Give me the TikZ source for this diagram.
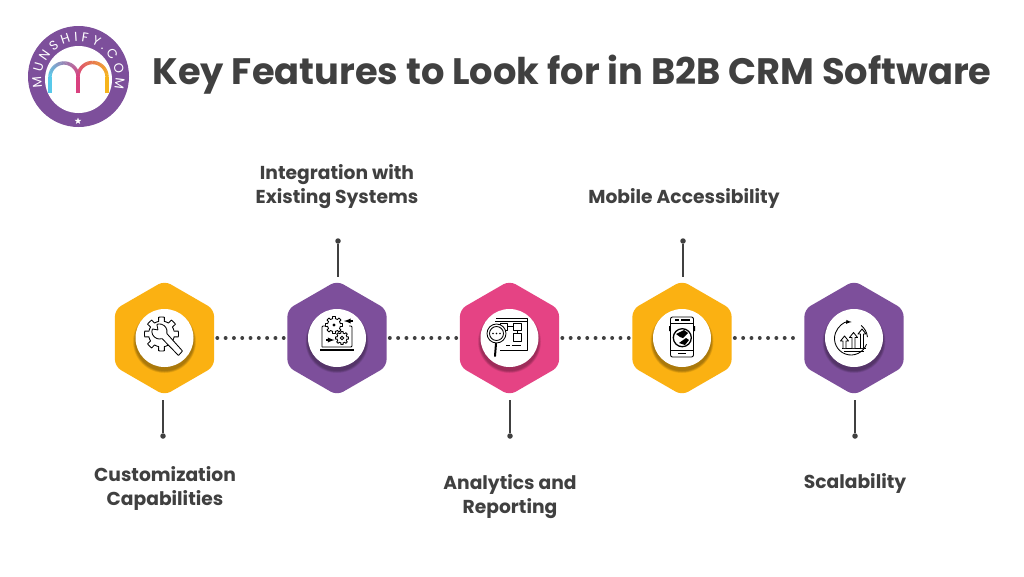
\documentclass[tikz,border=0pt]{standalone}
\usepackage{fontspec}
\setmainfont{Poppins}
\usetikzlibrary{shapes.geometric,decorations.text}

\definecolor{hexyellow}{HTML}{FBB112}
\definecolor{hexpurple}{HTML}{7D4F9B}
\definecolor{hexpink}{HTML}{E54384}
\definecolor{inkgray}{HTML}{404040}
\definecolor{archblue}{HTML}{58C9EA}
\definecolor{archpink}{HTML}{D9417F}
\definecolor{archgold}{HTML}{F6B41C}

\tikzset{
    hexnode/.style={regular polygon, regular polygon sides=6, shape border rotate=30,
        minimum size=114.5pt, inner sep=0pt, rounded corners=7pt, fill=#1},
    discnode/.style={circle, fill=white, minimum size=58pt, inner sep=0pt},
    tipnode/.style={circle, fill=inkgray, minimum size=5.5pt, inner sep=0pt},
    labelnode/.style={align=center, text=inkgray, font=\bfseries\fontsize{18.7}{24}\selectfont},
    stemline/.style={draw=inkgray, line width=1.4pt},
    dotline/.style={draw=inkgray, line width=3.8pt, line cap=round,
        dash pattern=on 0.1pt off 8.2pt, shorten <=3pt, shorten >=3.5pt},
    iconline/.style={draw=black, line width=0.85pt, line join=round},
}

% outline of a cog wheel: centre x, centre y, radius
\newcommand{\cogwheel}[3]{
    \draw[iconline, fill=white, shift={(#1,#2)}] plot[samples=145, domain=0:360]
        (\x:{cos(8*\x)>0.15 ? #3 : 0.76*#3}) -- cycle;
}

\begin{document}
\begin{tikzpicture}[x=1pt, y=-1pt]
    \useasboundingbox (0,0) rectangle (1024,576);
    \fill[white] (0,0) rectangle (1024,576);

    % Logo ring
    \fill[hexpurple] (78.5,76.5) circle (50.5);
    \fill[white] (78.5,79.5) circle (33.5);
    \path[decorate, decoration={text along path, text align=fit to path,
        text={|\fontsize{13}{13}\selectfont\color{white}|MUNSHIFY.COM}}]
        (78.5,78.5) ++(166:37) arc[start angle=166, end angle=376, radius=37];
    \node[star, star points=5, star point ratio=2.4, fill=white, minimum size=7pt, inner sep=0pt]
        (logostar) at (78,121) {};

    % Logo letter
    \draw[archblue, line width=3.4pt] (50,93) -- (50,77);
    \draw[archpink, line width=3.4pt] (78,93) -- (78,77);
    \draw[archgold, line width=3.4pt] (107,93) -- (107,77);
    \foreach \t in {0,5,...,175} {
        \pgfmathtruncatemacro{\mixval}{\t/1.75}
        \draw[archpink!\mixval!archblue, line width=3.4pt] (64,77) ++(180+\t:14) arc[start angle=180+\t, end angle=186+\t, radius=14];
        \draw[archgold!\mixval!archpink, line width=3.4pt] (92.5,77) ++(180+\t:14.5) arc[start angle=180+\t, end angle=186+\t, radius=14.5];
    }

    % Title
    \node[anchor=west, text=inkgray, font=\bfseries\fontsize{36.8}{40}\selectfont] (title) at (149,74.5)
        {Key Features to Look for in B2B CRM Software};

    % Hexagons
    \node[hexnode=hexyellow] (feat1) at (164.5,338) {};
    \node[hexnode=hexpurple] (feat2) at (337,338) {};
    \node[hexnode=hexpink] (feat3) at (509.5,338) {};
    \node[hexnode=hexyellow] (feat4) at (682,338) {};
    \node[hexnode=hexpurple] (feat5) at (854,338) {};

    % Dotted links
    \draw[dotline] (feat1) -- (feat2);
    \draw[dotline] (feat2) -- (feat3);
    \draw[dotline] (feat3) -- (feat4);
    \draw[dotline] (feat4) -- (feat5);

    % White discs with a soft shadow
    \foreach \n in {1,...,5} {
        \foreach \r in {31.5,31,30.5,30,29.5} {
            \fill[black, opacity=0.07] ([yshift=-3.5pt]feat\n.center) circle (\r);
        }
        \node[discnode] (disc\n) at (feat\n) {};
    }

    % Stems
    \node[tipnode] (tip1) at (163,436) {};
    \node[tipnode] (tip2) at (338,241) {};
    \node[tipnode] (tip3) at (510,436) {};
    \node[tipnode] (tip4) at (683,241) {};
    \node[tipnode] (tip5) at (855,436) {};
    \coordinate (stub1) at (163,400);
    \coordinate (stub2) at (338,277);
    \coordinate (stub3) at (510,400);
    \coordinate (stub4) at (683,277);
    \coordinate (stub5) at (855,400);
    \foreach \n in {1,...,5} {
        \draw[stemline] (tip\n) -- (stub\n);
    }

    % Labels
    \node[labelnode] (label1) at (165,488.5) {Customization\\Capabilities};
    \node[labelnode] (label2) at (337,187) {Integration with\\Existing Systems};
    \node[labelnode] (label3) at (510,497) {Analytics and\\Reporting};
    \node[labelnode] (label4) at (684,198.5) {Mobile Accessibility};
    \node[labelnode] (label5) at (855,483) {Scalability};

    % Icon: cog and wrench
    \cogwheel{161.5}{334}{17}
    \draw[iconline, fill=white, rounded corners=0.5pt] (166.7,333.4) arc[start angle=15, end angle=-110, radius=7.5]
        -- (158,330) -- (152.4,328.9) arc[start angle=200, end angle=70, radius=7.5]
        -- (178.5,355.5) -- (182.5,351) -- cycle;

    % Icon: laptop with cogs
    \draw[iconline, rounded corners=1pt] (322,347) -- (322,326) -- (326,326);
    \draw[iconline, rounded corners=1pt] (322,347) -- (352,347) -- (352,326) -- (349,326);
    \draw[black, line width=1.8pt] (320,350) -- (353.5,350);
    \cogwheel{334}{325}{8.5}
    \fill[black] (334,325) circle (1.6);
    \cogwheel{342}{338}{6.5}
    \fill[white, draw=black, line width=0.8pt] (342,338) circle (1.8);
    \draw[black, line width=1.3pt, -latex] (353,321) -- (344,321);
    \draw[black, line width=1.3pt, -latex] (326,340) -- (334.5,340);

    % Icon: board and magnifier
    \draw[iconline] (496,318) -- (527,318) -- (527,350) -- (500,350);
    \draw[iconline] (495,321) -- (527,321);
    \draw[iconline] (500,323) rectangle (507,330);
    \draw[iconline] (513,323) rectangle (521,330);
    \draw[iconline] (513,333.5) rectangle (521,341);
    \draw[iconline] (507,326.5) -- (513,326.5);
    \draw[iconline] (517,330) -- (517,333.5);
    \draw[iconline] (506,345) -- (510,345);
    \draw[iconline] (512,345) -- (521,345);
    \draw[iconline, fill=white] (496.5,333.5) circle (9.5);
    \draw[iconline] (496.5,333.5) circle (7);
    \fill[black] (493,333.5) circle (0.8) (496.5,333.5) circle (0.8) (500,333.5) circle (0.8);
    \draw[black, line width=2pt, line cap=round] (496,343.5) -- (495,356);

    % Icon: phone with globe
    \draw[iconline, rounded corners=2pt] (670.5,317) rectangle (693.5,357);
    \draw[iconline] (670.5,323) -- (693.5,323);
    \draw[iconline] (670.5,350) -- (693.5,350);
    \draw[black, line width=1.2pt] (675,320) -- (679,320) (681,320) -- (690,320);
    \draw[black, line width=1.2pt] (678,353.5) -- (686,353.5);
    \fill[black] (669,326) rectangle (670.5,331) (693.5,326) rectangle (695,331);
    \draw[black, line width=1.3pt] (682.3,337.7) circle (9);
    \fill[black] (676,334) -- (684,330) -- (688,333) -- (683,338) -- (680,337) -- cycle;
    \fill[black] (679,343) -- (686,338) -- (689,340) -- (685,345) -- cycle;

    % Icon: growth arrows in a circular arrow
    \draw[iconline, -latex] (851,338.5) ++(20:16.5) arc[start angle=20, end angle=272, radius=16.5];
    \draw[iconline] (851,338.5) ++(308:16.5) arc[start angle=308, end angle=355, radius=16.5];
    \draw[iconline] (842,348) -- (866,348);
    \draw[iconline] (844,351) -- (864,351);
    \foreach \ax/\ay in {844.5/336, 853.5/332.5, 862/329} {
        \draw[iconline, fill=white] (\ax-1.5,348) -- (\ax-1.5,\ay+5) -- (\ax-4,\ay+5) -- (\ax,\ay)
            -- (\ax+4,\ay+5) -- (\ax+1.5,\ay+5) -- (\ax+1.5,348);
    }
\end{tikzpicture}
\end{document}
